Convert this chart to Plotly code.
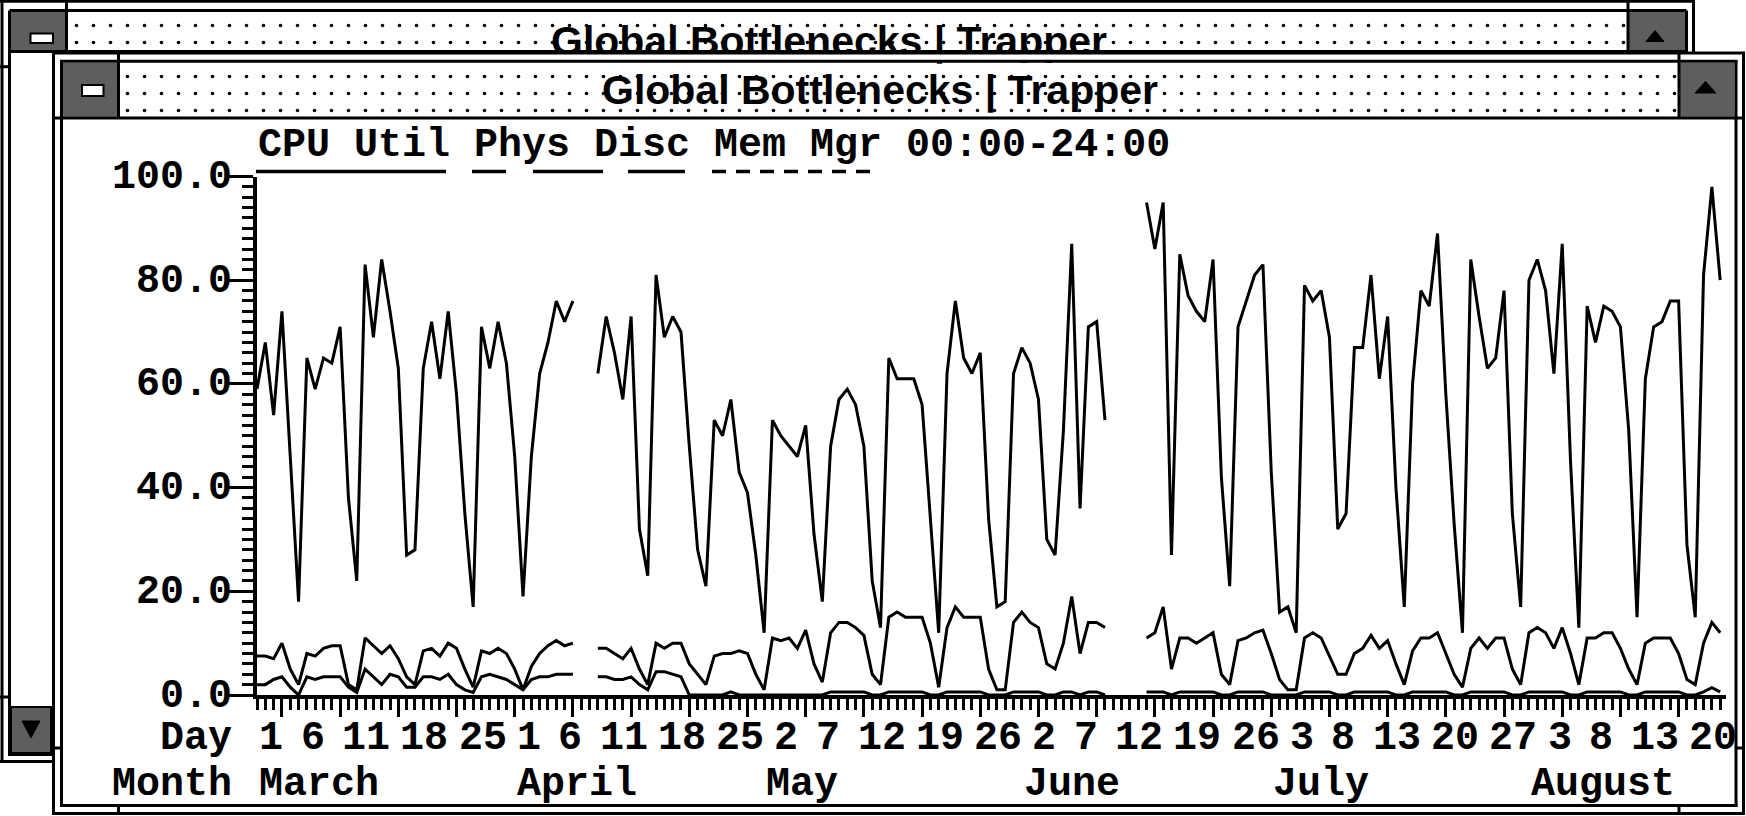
import plotly.graph_objects as go
import pandas as pd

# ---------------- data ----------------
start_date = "1994-03-01"

cpu_util = [
    59, 68, 54, 74, 46, 18, 65, 59, 65, 64,
    71, 38, 22, 83, 69, 84, 74, 63, 27, 28,
    63, 72, 61, 74, 58, 35, 17, 71, 63, 72,
    64, 46, 19, 46, 62, 68, 76, 72, 76, None,
    None, 62, 73, 66, 57, 73, 32, 23, 81, 69,
    73, 70, 48, 28, 21, 53, 50, 57, 43, 39,
    27, 12, 53, 50, 48, 46, 52, 31, 18, 48,
    57, 59, 56, 48, 22, 13, 65, 61, 61, 61,
    56, 33, 12, 62, 76, 65, 62, 66, 34, 17,
    18, 62, 67, 64, 57, 30, 27, 51, 87, 36,
    71, 72, 53, None, None, None, None, 95, 86, 95,
    27, 85, 77, 74, 72, 84, 42, 21, 71, 76,
    81, 83, 43, 16, 17, 12, 79, 76, 78, 69,
    32, 35, 67, 67, 81, 61, 73, 40, 17, 60,
    78, 75, 89, 58, 33, 12, 84, 73, 63, 65,
    78, 35, 17, 80, 84, 78, 62, 87, 45, 13,
    75, 68, 75, 74, 71, 51, 15, 61, 71, 72,
    76, 76, 29, 15, 81, 98, 80,
]

phys_disc = [
    7.5, 7.5, 7, 10, 5, 2, 8, 7.5, 9, 9.5,
    9.5, 2, 1, 11, 9.5, 8, 9.5, 7, 3.5, 2,
    8.5, 9, 7.5, 10, 9, 5, 1.5, 8.5, 8, 9,
    8, 5, 1, 5.5, 8, 9.5, 10.5, 9.5, 10, None,
    None, 9, 9, 8, 7, 9, 5, 2, 10, 9,
    10, 10, 6, 4, 2, 7.5, 8, 8, 8.5, 8,
    4, 1, 11, 10.5, 11, 9, 12.5, 6, 2.5, 12,
    14, 14, 13, 11.5, 4, 2, 15, 16, 15, 15,
    15, 10, 1.5, 13, 17, 15, 15, 15, 5, 1,
    1, 14, 16, 14, 13, 6, 5, 10, 19, 8,
    14, 14, 13, None, None, None, None, 11, 12, 17,
    5, 11, 11, 10, 11, 12, 4, 2, 10.5, 11,
    12, 12.5, 8, 3, 1, 1, 11, 12, 11, 7.5,
    4, 4, 8, 9, 11.5, 9, 10.5, 6, 2, 8.5,
    11, 11, 12, 8, 4, 1.5, 9, 11, 9, 11,
    11, 5, 2, 12, 13, 12, 9, 13, 8, 2,
    11, 11, 12, 12, 9, 5, 2, 10, 11, 11,
    11, 8, 3, 2, 10, 14, 12,
]

mem_mgr = [
    2, 2, 3, 3.5, 1.5, 0, 3.5, 3, 3.5, 3.5,
    3.5, 1.5, 0.5, 5, 3.5, 2, 4, 3.5, 1.5, 1.5,
    3.5, 3.5, 3, 4, 2, 1, 0.5, 3.5, 4, 3.5,
    3, 2, 1, 3, 3.5, 3.5, 4, 4, 4, None,
    None, 3.5, 3.5, 3, 3, 3.5, 2, 1, 4.5, 4.5,
    4, 3.5, 0, 0, 0, 0, 0, 0.6, 0, 0,
    0, 0, 0, 0, 0, 0, 0, 0, 0, 0.6,
    0.6, 0.6, 0.6, 0.6, 0, 0, 0.6, 0.6, 0.6, 0.6,
    0.6, 0, 0, 0.6, 0.6, 0.6, 0.6, 0.6, 0, 0,
    0, 0.6, 0.6, 0.6, 0.6, 0, 0, 0.6, 0.6, 0,
    0.6, 0.6, 0, None, None, None, None, 0.6, 0.6, 0.6,
    0, 0.6, 0.6, 0.6, 0.6, 0.6, 0, 0, 0.6, 0.6,
    0.6, 0.6, 0, 0, 0, 0, 0.6, 0.6, 0.6, 0.6,
    0, 0, 0.6, 0.6, 0.6, 0.6, 0.6, 0, 0, 0.6,
    0.6, 0.6, 0.6, 0.6, 0, 0, 0.6, 0.6, 0.6, 0.6,
    0.6, 0, 0, 0.6, 0.6, 0.6, 0.6, 0.6, 0, 0,
    0.6, 0.6, 0.6, 0.6, 0.6, 0, 0, 0.6, 0.6, 0.6,
    0.6, 0.6, 0, 0, 0.6, 1.4, 0.6,
]

day_tick_dates = [
    "1994-03-01", "1994-03-06", "1994-03-11", "1994-03-18", "1994-03-25",
    "1994-04-01", "1994-04-06", "1994-04-11", "1994-04-18", "1994-04-25",
    "1994-05-02", "1994-05-07", "1994-05-12", "1994-05-19", "1994-05-26",
    "1994-06-02", "1994-06-07", "1994-06-12", "1994-06-19", "1994-06-26",
    "1994-07-03", "1994-07-08", "1994-07-13", "1994-07-20", "1994-07-27",
    "1994-08-03", "1994-08-08", "1994-08-13", "1994-08-20",
]
month_start_dates = ["1994-03-01", "1994-04-01", "1994-05-01",
                     "1994-06-01", "1994-07-01", "1994-08-01"]
month_names = ["March", "April", "May", "June", "July", "August"]
y_tick_values = [0, 20, 40, 60, 80, 100]
series_names = ["CPU Util", "Phys Disc", "Mem Mgr"]
time_window = "00:00-24:00"
window_title = "Global Bottlenecks | Trapper"
x_range_end = "1994-08-24 16:48"

dates = pd.date_range(start_date, periods=len(cpu_util), freq="D")

# ---------------- layout helpers (pixel -> paper) ----------------
W, H = 1746, 816
PLOT_L, PLOT_R, PLOT_T, PLOT_B = 257, 1726, 176.5, 695
MONO = "Liberation Mono, DejaVu Sans Mono, monospace"
SANS = "Liberation Sans, Arial, sans-serif"
FS = 40
CHAR_W = 24
STIPPLE = "#5e5e5e"


def X(px):
    return px / W


def Y(py):
    return 1 - py / H


shapes = []


def line(x0, y0, x1, y1, w=3, dash=None):
    d = dict(type="line", xref="paper", yref="paper",
             x0=X(x0), y0=Y(y0), x1=X(x1), y1=Y(y1),
             line=dict(color="black", width=w))
    if dash:
        d["line"]["dash"] = dash
    shapes.append(d)


def rect(x0, y0, x1, y1, fill, lw=0):
    shapes.append(dict(type="rect", xref="paper", yref="paper",
                       x0=X(x0), y0=Y(y0), x1=X(x1), y1=Y(y1),
                       fillcolor=fill,
                       line=dict(color="black", width=lw)))


def tri(pts):
    path = "M " + " L ".join(f"{X(a)},{Y(b)}" for a, b in pts) + " Z"
    shapes.append(dict(type="path", xref="paper", yref="paper", path=path,
                       fillcolor="black", line=dict(color="black", width=1)))


fig = go.Figure()

# ---- title bars (dotted texture) on an overlay pixel axis ----
fig.add_trace(go.Bar(
    orientation="h", y=[31, 89.75], x=[1560.5, 1558.5], base=[67, 119.5],
    width=[38, 53.5], xaxis="x2", yaxis="y2", hoverinfo="skip",
    marker=dict(color="white", line=dict(width=0),
                pattern=dict(shape=".", fgcolor="black", bgcolor="white",
                             size=17, solidity=0.035, fillmode="replace")),
    showlegend=False))
fig.add_trace(go.Scatter(
    x=[829, 880], y=[45, 94], mode="text", text=[window_title, window_title],
    textposition="middle center", xaxis="x2", yaxis="y2", hoverinfo="skip",
    textfont=dict(family=SANS, size=41, color="black", weight="bold"),
    cliponaxis=False, showlegend=False))

# ---- data series ----
for name, vals in zip(series_names, [cpu_util, phys_disc, mem_mgr]):
    fig.add_trace(go.Scatter(
        x=dates, y=vals, mode="lines", name=name, connectgaps=False,
        line=dict(color="black", width=3), hoverinfo="skip",
        showlegend=False))

# ---------------- window chrome ----------------
# back window
rect(10.7, 11.7, 66, 50, STIPPLE)
rect(30.5, 33.5, 53, 43, "white", 2)
rect(1629, 11.7, 1685, 50, STIPPLE)
tri([(1646, 41.5), (1664, 41.5), (1655, 30.5)])
rect(11, 707, 51, 753, STIPPLE, 2)
tri([(22, 721), (40, 721), (31, 738)])
line(0, 1.3, 1695, 1.3)
line(2, 0, 2, 763)
line(1693.5, 0, 1693.5, 52)
line(0, 761.5, 52, 761.5)
line(9.5, 10.5, 1686.5, 10.5)
line(9.5, 10.5, 9.5, 756)
line(1686.5, 10.5, 1686.5, 52)
line(9.5, 754.5, 52, 754.5)
line(9.5, 51.5, 1686.5, 51.5)
line(66.5, 0, 66.5, 51.5)
line(1628, 0, 1628, 51.5)
line(0, 66.7, 10, 66.7)
line(0, 697, 10, 697)

# front window
rect(52, 52, 1745, 62, "white")
rect(63, 62.7, 118, 116.7, STIPPLE)
rect(82, 85, 103.5, 96, "white", 2)
rect(1679.5, 62.7, 1734.5, 116.7, STIPPLE)
tri([(1695, 93), (1716, 93), (1705.5, 81.5)])
line(52, 53, 1745, 53)
line(53.5, 52, 53.5, 815)
line(1743.5, 52, 1743.5, 815)
line(52, 813.5, 1745, 813.5)
line(60, 61.3, 1737.5, 61.3)
line(61.5, 60, 61.5, 807)
line(1736, 60, 1736, 807)
line(60, 805.5, 1737.5, 805.5)
line(52, 118, 1745, 118)
line(118.5, 53, 118.5, 118)
line(1679, 53, 1679, 118)
line(118.5, 805, 118.5, 815)
line(1679, 805, 1679, 815)
line(52, 748, 62, 748)
line(1735, 748, 1745, 748)

# legend underline samples (line style of each series)
legend_text = " ".join(series_names + [time_window])
legend_dash = {"CPU Util": None,
               "Phys Disc": "34px,27px,70px,25px,57px,40px",
               "Mem Mgr": "14px,10px"}
for name in series_names:
    i = legend_text.index(name)
    x0 = PLOT_L + i * CHAR_W - 1
    line(x0, 171.5, x0 + len(name) * CHAR_W - 2, 171.5, 3.5, legend_dash[name])

# ---------------- text annotations ----------------
ROW_DAY, ROW_MONTH = 738, 784
ann = []
fnt = dict(family=MONO, size=FS, color="black", weight="bold")
ann.append(dict(text=legend_text, xref="paper", yref="paper", x=X(PLOT_L - 1),
                y=Y(145), xanchor="left", yanchor="middle", showarrow=False,
                font=fnt))
for v in y_tick_values:
    ann.append(dict(text=f"{v:.1f}", xref="paper", yref="y", x=X(234), y=v,
                    xanchor="right", yanchor="middle", showarrow=False,
                    font=fnt, yshift=-1))
ann.append(dict(text="Day", xref="paper", yref="paper", x=X(234), y=Y(ROW_DAY),
                xanchor="right", yanchor="middle", showarrow=False, font=fnt))
ann.append(dict(text="Month", xref="paper", yref="paper", x=X(234),
                y=Y(ROW_MONTH), xanchor="right", yanchor="middle",
                showarrow=False, font=fnt))
for d in day_tick_dates:
    ann.append(dict(text=str(pd.Timestamp(d).day), xref="x", yref="paper",
                    x=d, y=Y(ROW_DAY), xanchor="left", yanchor="middle",
                    showarrow=False, font=fnt))
for d, m in zip(month_start_dates, month_names):
    ann.append(dict(text=m, xref="x", yref="paper", x=d, y=Y(ROW_MONTH),
                    xanchor="left", yanchor="middle", showarrow=False,
                    font=fnt))

fig.update_layout(
    width=W, height=H, autosize=False,
    margin=dict(l=0, r=0, t=0, b=0, pad=0, autoexpand=False),
    paper_bgcolor="white", plot_bgcolor="rgba(0,0,0,0)",
    showlegend=False, shapes=shapes, annotations=ann,
    xaxis=dict(domain=[X(PLOT_L), X(PLOT_R)], type="date",
               range=[start_date, x_range_end], showgrid=False,
               zeroline=False, showline=True, linecolor="black", linewidth=4,
               ticks="outside", tickcolor="black", tickwidth=3, ticklen=18,
               tick0="1994-03-04", dtick=7 * 86400000, showticklabels=False,
               minor=dict(ticks="outside", dtick=86400000, ticklen=11,
                          tickwidth=3, tickcolor="black", showgrid=False),
               anchor="y", fixedrange=True, automargin=False),
    yaxis=dict(domain=[Y(PLOT_B), Y(PLOT_T)], range=[0, 100],
               tickvals=y_tick_values, showticklabels=False, showgrid=False,
               zeroline=False, showline=True, linecolor="black", linewidth=4,
               ticks="outside", tickcolor="black", tickwidth=3, ticklen=24,
               minor=dict(ticks="outside", dtick=2, ticklen=11, tickwidth=3,
                          tickcolor="black", showgrid=False),
               anchor="x", fixedrange=True, automargin=False),
    xaxis2=dict(domain=[0, 1], range=[0, W], visible=False, anchor="y2",
                fixedrange=True, automargin=False),
    yaxis2=dict(domain=[0, 1], range=[H, 0], visible=False, anchor="x2",
                fixedrange=True, automargin=False),
)

fig.write_html("out.html", config={"displayModeBar": False,
                                   "responsive": False},
               post_script="document.body.style.margin='0px';"
                           "document.body.style.overflow='hidden';")
